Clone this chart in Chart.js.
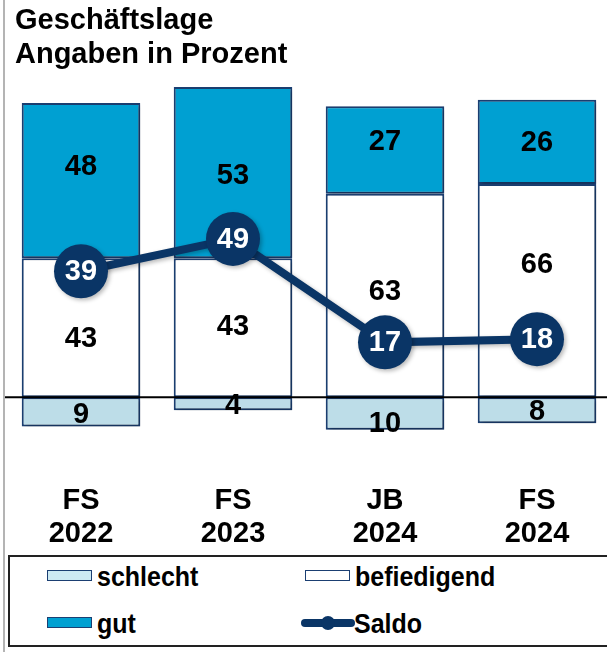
<!DOCTYPE html>
<html>
<head>
<meta charset="utf-8">
<script src="https://cdn.jsdelivr.net/npm/chart.js@4.4.1/dist/chart.umd.min.js"></script>
<style>
  html, body { margin: 0; padding: 0; background: #fff; overflow: hidden; }
  body { width: 607px; height: 652px; position: relative; font-family: "Liberation Sans", Arial, sans-serif; }
  #frame { position: absolute; left: 3px; top: 0; width: 2px; height: 652px; background: #b4b4b4; }
  #title { position: absolute; left: 15px; top: 2px; font-weight: bold; font-size: 29px; line-height: 34px; color: #000; }
  #wrap { position: absolute; left: 0; top: 0; width: 620px; height: 547px; }
  #legend { position: absolute; left: 8px; top: 555px; width: 640px; height: 88px; border: 2px solid #222; box-sizing: content-box; }
  .item { position: absolute; font-weight: bold; font-size: 25px; line-height: 30px; color: #000; white-space: nowrap; transform: scaleY(1.12); transform-origin: left center; }
  .sw { position: absolute; width: 43px; height: 9px; border: 1.5px solid #1b3f72; }
</style>
</head>
<body>
<div id="frame"></div>
<div id="wrap"><canvas id="chart" width="620" height="547"></canvas></div>
<div id="title">Geschäftslage<br>Angaben in Prozent</div>
<div id="legend"></div>

<script>
// data
const categories = ['FS 2022', 'FS 2023', 'JB 2024', 'FS 2024'];
const schlecht = [9, 4, 10, 8];
const befriedigend = [43, 43, 63, 66];
const gut = [48, 53, 27, 26];
const saldo = [39, 49, 17, 18];

const navy = '#0a3566';
const edge = '#1b3f72';

// legend (html, 2x2 grid like the original)
const legendItems = [
  { text: 'schlecht', fill: '#cdeaf3', x: 37, y: 19 },
  { text: 'befiedigend', fill: '#ffffff', x: 295, y: 19 },
  { text: 'gut', fill: '#00a0d2', x: 37, y: 66 },
  { text: 'Saldo', line: true, x: 290, y: 66 }
];
const legendEl = document.getElementById('legend');
legendItems.forEach(it => {
  if (it.line) {
    const svg = document.createElementNS('http://www.w3.org/2000/svg', 'svg');
    svg.setAttribute('width', '56');
    svg.setAttribute('height', '20');
    svg.style.position = 'absolute';
    svg.style.left = it.x + 'px';
    svg.style.top = (it.y - 10) + 'px';
    svg.innerHTML = '<line x1="5" y1="10" x2="51" y2="10" stroke="' + navy + '" stroke-width="8" stroke-linecap="round"/>' +
      '<circle cx="28" cy="10" r="7" fill="' + navy + '"/>';
    legendEl.appendChild(svg);
  } else {
    const sw = document.createElement('div');
    sw.className = 'sw';
    sw.style.left = it.x + 'px';
    sw.style.top = (it.y - 6) + 'px';
    sw.style.background = it.fill;
    legendEl.appendChild(sw);
  }
  const t = document.createElement('div');
  t.className = 'item';
  t.textContent = it.text;
  t.style.left = (it.x + (it.line ? 54 : 50)) + 'px';
  t.style.top = (it.y - 15) + 'px';
  legendEl.appendChild(t);
});

// soft drop shadow like the office original
const shadowPlugin = {
  id: 'shadow',
  beforeDatasetDraw(chart) {
    const ctx = chart.ctx;
    ctx.save();
    ctx.shadowColor = 'rgba(0,0,0,0.28)';
    ctx.shadowBlur = 4;
    ctx.shadowOffsetX = 2;
    ctx.shadowOffsetY = 2;
  },
  afterDatasetDraw(chart) {
    chart.ctx.restore();
  }
};

// zero line + value labels
const labelPlugin = {
  id: 'labels',
  afterDatasetsDraw(chart) {
    const ctx = chart.ctx;
    const y = chart.scales.y;
    const area = chart.chartArea;
    ctx.save();
    ctx.strokeStyle = '#000';
    ctx.lineWidth = 2;
    ctx.beginPath();
    ctx.moveTo(area.left, y.getPixelForValue(0));
    ctx.lineTo(607, y.getPixelForValue(0));
    ctx.stroke();

    // little nudges so labels clear the saldo circles
    const nudge = { 0: [2, 1, 9, 1], 1: [10, -2, -4, -27], 2: [-15, 2, -9, 0] };
    ctx.font = 'bold 29px "Liberation Sans", Arial, sans-serif';
    ctx.textAlign = 'center';
    ctx.textBaseline = 'middle';
    [0, 1, 2].forEach(di => {
      const meta = chart.getDatasetMeta(di);
      const vals = chart.data.datasets[di].data;
      meta.data.forEach((bar, i) => {
        const p = bar.getProps(['x', 'y', 'base'], true);
        const cy = (p.y + p.base) / 2 + nudge[di][i];
        ctx.fillStyle = '#000';
        ctx.fillText(String(Math.abs(vals[i])), p.x, cy + 1);
      });
    });

    const lm = chart.getDatasetMeta(3);
    ctx.fillStyle = '#fff';
    lm.data.forEach((pt, i) => {
      ctx.fillText(String(saldo[i]), pt.x, pt.y + 1);
    });
    ctx.restore();
  }
};

new Chart(document.getElementById('chart'), {
  type: 'bar',
  data: {
    labels: categories.map(c => c.split(' ')),
    datasets: [
      {
        label: 'schlecht',
        data: schlecht.map(v => -v),
        backgroundColor: '#bddde8',
        borderColor: edge,
        borderWidth: 2,
        borderSkipped: false,
        order: 2
      },
      {
        label: 'befiedigend',
        data: befriedigend,
        backgroundColor: '#ffffff',
        borderColor: edge,
        borderWidth: 2,
        borderSkipped: false,
        order: 2
      },
      {
        label: 'gut',
        data: gut,
        backgroundColor: '#00a0d2',
        borderColor: edge,
        borderWidth: 2,
        borderSkipped: false,
        order: 2
      },
      {
        type: 'line',
        label: 'Saldo',
        data: saldo,
        stack: 'saldo',
        borderColor: navy,
        borderWidth: 8,
        backgroundColor: navy,
        pointRadius: 27,
        pointBackgroundColor: navy,
        pointBorderWidth: 0,
        tension: 0,
        order: 0
      }
    ]
  },
  options: {
    responsive: false,
    animation: false,
    layout: { autoPadding: false, padding: { left: 5, right: 7, top: 74, bottom: 0 } },
    datasets: {
      bar: { barPercentage: 0.78, categoryPercentage: 1 }
    },
    plugins: {
      legend: { display: false },
      tooltip: { enabled: false }
    },
    scales: {
      x: {
        stacked: true,
        grid: { display: false },
        border: { display: false },
        afterFit(scale) {
          scale.height = 85;
          scale.paddingLeft = 0;
          scale.paddingRight = 0;
        },
        ticks: {
          color: '#000',
          padding: 14,
          maxRotation: 0,
          autoSkip: false,
          font: { family: '"Liberation Sans", Arial, sans-serif', size: 29, weight: 'bold', lineHeight: 1.15 }
        }
      },
      y: {
        stacked: true,
        display: false,
        min: -20,
        max: 100
      }
    }
  },
  plugins: [shadowPlugin, labelPlugin]
});
</script>
</body>
</html>
